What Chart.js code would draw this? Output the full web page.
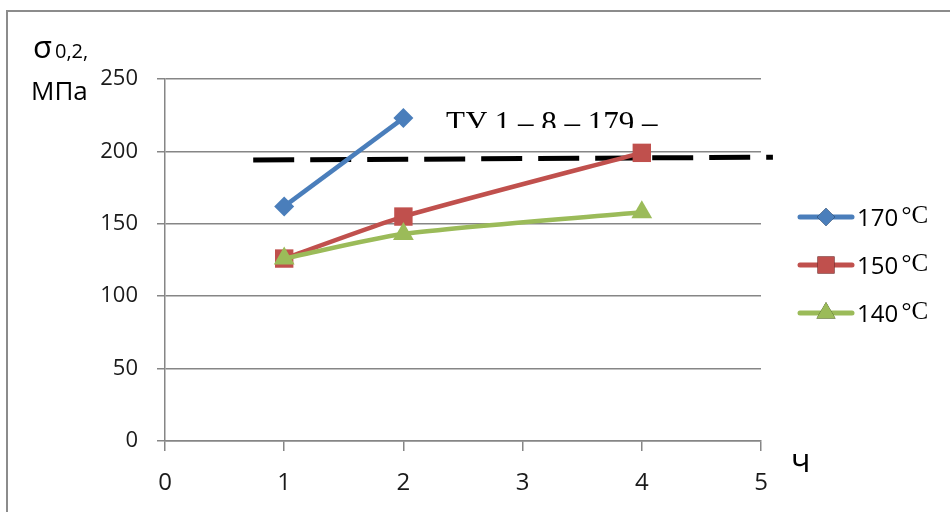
<!DOCTYPE html>
<html>
<head>
<meta charset="utf-8">
<style>
  body { margin: 0; background: #fff; }
  #wrap { position: relative; width: 950px; height: 512px; overflow: hidden; }
  #frame { position: absolute; left: 6px; top: 10px; width: 960px; height: 520px;
           border-top: 2px solid #8c8c8c; border-left: 2px solid #8c8c8c; }
  canvas { position: absolute; left: 0; top: 0; }
</style>
</head>
<body>

<div id="wrap">
  <div id="frame"></div>
  <canvas id="myChart" width="950" height="512"></canvas>
</div>

<script src="https://cdn.jsdelivr.net/npm/chart.js"></script>

<script>
  // values (hours, MPa)
  const hours170 = [1, 2];
  const values170 = [162, 223];
  const hours150 = [1, 2, 4];
  const values150 = [126, 155, 199];
  const hours140 = [1, 2, 4];
  const values140 = [126, 143, 158];

  // dashed requirement line (ТУ)
  const normHours = [0.74, 5.1];
  const normValues = [194, 196];

  const seriesLabels = ['170 °C', '150 °C', '140 °C'];
  const xTicks = [0, 1, 2, 3, 4, 5];
  const yTicks = [0, 50, 100, 150, 200, 250];

  function pairs(xs, ys) {
    return xs.map(function (x, i) { return { x: x, y: ys[i] }; });
  }

  const gridGray = '#868686';
  // legend markers are a bit smaller than the ones on the lines
  const legendRadius = { rectRot: 9, rect: 12, triangle: 11 };

  // texts drawn on the canvas: axis titles, the ТУ note and the legend
  const extrasPlugin = {
    id: 'extras',
    afterDraw(chart) {
      const ctx = chart.ctx;
      ctx.save();
      ctx.fillStyle = '#000';
      ctx.textAlign = 'left';
      ctx.textBaseline = 'alphabetic';

      // y axis title
      ctx.font = '31px "Open Sans"';
      ctx.fillText('σ', 33, 58);
      ctx.font = '20px "Open Sans"';
      ctx.fillText('0,2,', 55, 58);
      ctx.font = '26px "Open Sans"';
      ctx.fillText('МПа', 31, 100);

      // x axis title
      ctx.font = '32px "Open Sans"';
      ctx.fillText('ч', 791, 472);

      // ТУ note, cut off at its bottom like the source
      ctx.save();
      ctx.beginPath();
      ctx.rect(0, 0, chart.width, 128);
      ctx.clip();
      ctx.font = '31px "Liberation Serif"';
      ctx.fillText('ТУ 1 – 8 – 179 –', 446, 133);
      ctx.restore();

      // legend
      const rows = [217, 265, 313];
      chart.data.datasets.forEach(function (ds, i) {
        if (i === 0) return;
        const y = rows[i - 1];
        ctx.strokeStyle = ds.borderColor;
        ctx.lineWidth = 5;
        ctx.lineCap = 'round';
        ctx.beginPath();
        ctx.moveTo(800, y);
        ctx.lineTo(852, y);
        ctx.stroke();
        Chart.helpers.drawPoint(ctx, {
          pointStyle: ds.pointStyle,
          radius: legendRadius[ds.pointStyle],
          borderWidth: 0
        }, 826, y);
        ctx.fillStyle = ds.backgroundColor;
        ctx.fill();
        const parts = ds.label.split(' ');
        ctx.fillStyle = '#000';
        ctx.font = '24px "Open Sans"';
        ctx.fillText(parts[0], 857, y + 9);
        const w = ctx.measureText(parts[0] + ' ').width;
        ctx.font = '25px "Liberation Serif"';
        ctx.fillText(parts[1], 857 + w - 3, y + 6);
      });
      ctx.restore();
    }
  };

  // lower "order" is painted later, i.e. on top
  const data = {
    datasets: [{
      label: 'ТУ',
      data: pairs(normHours, normValues),
      borderColor: '#000',
      borderWidth: 5,
      borderDash: [41, 16],
      pointRadius: 0,
      clip: false,
      order: 3
    }, {
      label: seriesLabels[0],
      data: pairs(hours170, values170),
      borderColor: '#4a7ebb',
      backgroundColor: '#4a7ebb',
      borderWidth: 4.5,
      pointStyle: 'rectRot',
      pointRadius: 10,
      pointBorderWidth: 0,
      order: 2
    }, {
      label: seriesLabels[1],
      data: pairs(hours150, values150),
      borderColor: '#c0504d',
      backgroundColor: '#c0504d',
      borderWidth: 4.5,
      tension: 0.2,
      pointStyle: 'rect',
      pointRadius: 13,
      pointBorderWidth: 0,
      order: 1
    }, {
      label: seriesLabels[2],
      data: pairs(hours140, values140),
      borderColor: '#9bbb59',
      backgroundColor: '#9bbb59',
      borderWidth: 4.5,
      tension: 0.25,
      pointStyle: 'triangle',
      pointRadius: 12,
      pointBorderWidth: 0,
      order: 0
    }]
  };

  const config = {
    type: 'line',
    data: data,
    plugins: [extrasPlugin],
    options: {
      responsive: false,
      animation: false,
      events: [],
      layout: { padding: { left: 0, top: 79, right: 189, bottom: 0 } },
      plugins: {
        legend: { display: false },
        tooltip: { enabled: false }
      },
      scales: {
        x: {
          type: 'linear',
          min: xTicks[0],
          max: xTicks[xTicks.length - 1],
          afterFit: function (scale) { scale.height = 71; },
          afterBuildTicks: function (scale) {
            scale.ticks = xTicks.map(function (v) { return { value: v }; });
          },
          border: { display: true, color: gridGray, width: 1.5 },
          grid: { drawOnChartArea: false, drawTicks: true, tickLength: 10, color: gridGray, lineWidth: 1.5 },
          ticks: { color: '#1a1a1a', font: { family: 'Open Sans', size: 24 }, padding: 18, maxRotation: 0 }
        },
        y: {
          min: yTicks[0],
          max: yTicks[yTicks.length - 1],
          afterFit: function (scale) { scale.width = 165; },
          afterBuildTicks: function (scale) {
            scale.ticks = yTicks.map(function (v) { return { value: v }; });
          },
          border: { display: true, color: gridGray, width: 1.5 },
          grid: { color: gridGray, lineWidth: 1.5, tickLength: 8 },
          ticks: { color: '#1a1a1a', font: { family: 'Open Sans', size: 22 }, padding: 19 }
        }
      }
    }
  };

  const myChart = new Chart(document.getElementById('myChart'), config);
</script>

</body>
</html>
